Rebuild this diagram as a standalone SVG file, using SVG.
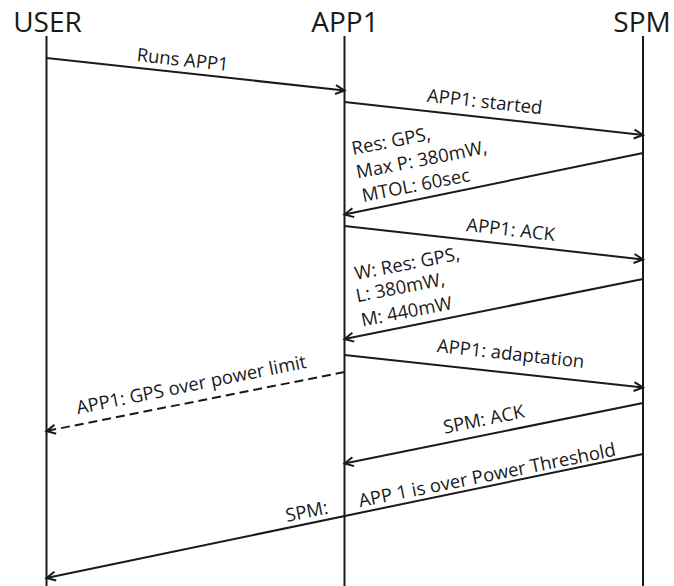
<svg xmlns="http://www.w3.org/2000/svg" width="674" height="586" viewBox="0 0 674 586">
  <style>
    .hdr { font-family: "Open Sans", "Liberation Sans", sans-serif; font-size: 28px; fill: #1a1a1a; text-anchor: middle; }
    .life { stroke: #1a1a1a; stroke-width: 2; fill: none; }
    .msg { stroke: #1a1a1a; stroke-width: 2; fill: none; marker-end: url(#arr); }
    .dash { stroke-dasharray: 9 5; }
    .lbl { font-family: "Open Sans", "Liberation Sans", sans-serif; font-size: 18.5px; fill: #1a1a1a; }
    .mid { text-anchor: middle; }
  </style>
  <defs>
    <marker id="arr" markerUnits="userSpaceOnUse" markerWidth="14" markerHeight="14" viewBox="0 0 14 14" refX="11" refY="7" orient="auto">
      <path d="M2,2.5 L11,7 L2,11.5" fill="none" stroke="#1a1a1a" stroke-width="2"/>
    </marker>
  </defs>
  <rect width="674" height="586" fill="#ffffff"/>

  <g id="user">
    <text class="hdr" x="47.5" y="32">USER</text>
    <line class="life" x1="46.5" y1="36" x2="46.5" y2="586"/>
  </g>
  <g id="app1">
    <text class="hdr" x="345" y="32">APP1</text>
    <line class="life" x1="344.5" y1="36" x2="344.5" y2="586"/>
  </g>
  <g id="spm">
    <text class="hdr" x="642" y="32">SPM</text>
    <line class="life" x1="643" y1="36" x2="643" y2="586"/>
  </g>

  <g id="connectors">
    <line class="msg" x1="46.5" y1="58" x2="344.5" y2="90.5"/>
    <line class="msg" x1="344.5" y1="102" x2="643" y2="135"/>
    <line class="msg" x1="643" y1="153" x2="344.5" y2="214.5"/>
    <line class="msg" x1="344.5" y1="226" x2="643" y2="259.5"/>
    <line class="msg" x1="643" y1="279" x2="344.5" y2="339"/>
    <line class="msg" x1="344.5" y1="355" x2="643" y2="387.5"/>
    <line class="msg dash" x1="344.5" y1="372" x2="46.5" y2="431"/>
    <line class="msg" x1="643" y1="403" x2="344.5" y2="463.5"/>
    <line class="msg" x1="643" y1="454" x2="46.5" y2="578"/>
  </g>

  <g id="labels">
    <text class="lbl mid" x="182" y="66" transform="rotate(6.2 182 66)">Runs APP1</text>
    <text class="lbl mid" x="484" y="108" transform="rotate(6.3 484 108)">APP1: started</text>
    <text class="lbl" transform="rotate(-11 353 155)"><tspan x="353" y="155">Res: GPS,</tspan><tspan x="353" y="179">Max P: 380mW,</tspan><tspan x="354" y="203">MTOL: 60sec</tspan></text>
    <text class="lbl mid" x="510" y="236" transform="rotate(6.4 510 236)">APP1: ACK</text>
    <text class="lbl" transform="rotate(-11 356 280)"><tspan x="356" y="280">W: Res: GPS,</tspan><tspan x="353" y="302">L: 380mW,</tspan><tspan x="353.5" y="327">M: 440mW</tspan></text>
    <text class="lbl mid" x="510" y="360" transform="rotate(6.2 510 360)">APP1: adaptation</text>
    <text class="lbl mid" x="192.5" y="391" transform="rotate(-11.5 192.5 391)">APP1: GPS over power limit</text>
    <text class="lbl mid" x="485" y="425.5" transform="rotate(-11.5 485 425.5)">SPM: ACK</text>
    <text class="lbl" transform="rotate(-11.4 287 522)"><tspan x="287" y="522">SPM:</tspan><tspan x="361.5" y="522">APP 1 is over Power Threshold</tspan></text>
  </g>
</svg>
